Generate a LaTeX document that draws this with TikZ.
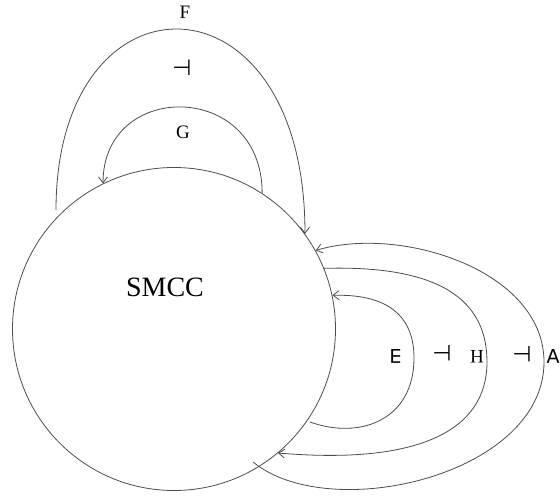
\documentclass[tikz,border=0pt]{standalone}
\usepackage{fix-cm}
\usepackage{fontspec}
\setmainfont{Liberation Serif}
\newfontfamily\symfam{DejaVu Sans}
\usetikzlibrary{arrows.meta}
\begin{document}
\begin{tikzpicture}[x=1pt,y=-1pt,
  wire/.style={line width=0.8pt, draw=black!70},
  arr/.style={wire, -{Straight Barb[length=6pt,width=9pt]}},
  lab/.style={font=\fontsize{19}{22}\selectfont, inner sep=0pt},
  sym/.style={font=\fontsize{19}{22}\symfam, inner sep=0pt},
  turnstile/.style={font=\fontsize{22}{24}\symfam, inner sep=0pt},
  flip/.style={rotate=180}]
\useasboundingbox (0,0) rectangle (560,497);
\node[circle, draw=black!70, line width=0.8pt, minimum size=323pt, inner sep=0pt] (s) at (174,329) {};
\node[font=\fontsize{28}{32}\selectfont, inner sep=0pt] (name) at (165,287) {SMCC};
\coordinate (fS) at (56,210);
\coordinate (eS) at (310,422);
\coordinate (aS) at (253,462);
\draw[arr] (fS) .. controls (56,-35) and (305,-35) .. (s.36);
\draw[arr] (s.57) .. controls (262,80) and (103,80) .. (s.116);
\draw[arr] (eS) .. controls (360,440) and (414,420) .. (414,358) .. controls (414,310) and (380,294) .. (s.12);
\draw[arr] (s.22) .. controls (440,265) and (487,300) .. (487,362) .. controls (487,430) and (420,465) .. (s.310);
\draw[arr] (aS) .. controls (330,525) and (544,475) .. (544,362) .. controls (544,270) and (400,225) .. (s.29);
\node[lab] (F) at (185,12) {F};
\node[turnstile] (adj1) at (182,68) {⊣};
\node[lab] (G) at (183,132) {G};
\node[sym, flip] (ex) at (396,356) {∃};
\node[turnstile, flip] (adj2) at (442,353) {⊢};
\node[lab, flip] (H) at (477,357) {H};
\node[turnstile, flip] (adj3) at (522,354) {⊢};
\node[sym, flip] (fa) at (553,356) {∀};
\end{tikzpicture}
\end{document}
